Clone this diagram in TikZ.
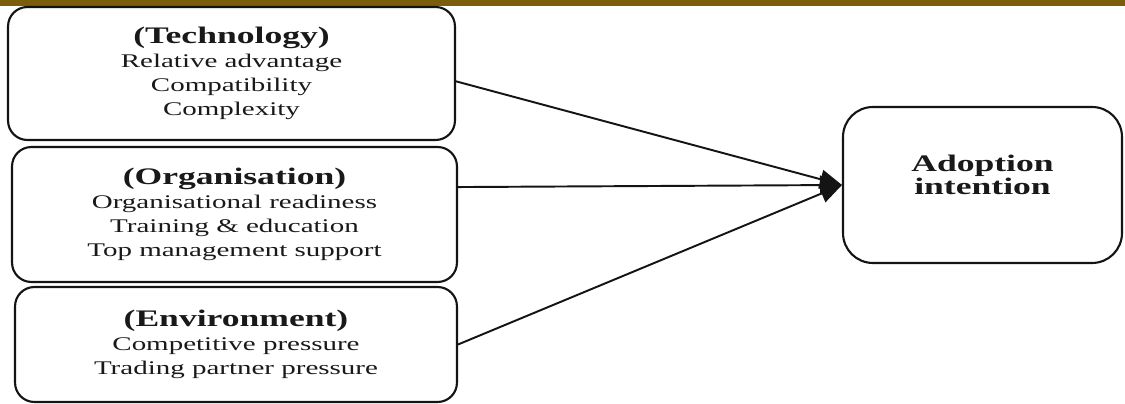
\documentclass[tikz,border=0pt]{standalone}
\usepackage{fontspec}
\setmainfont{Liberation Serif}[FakeStretch=1.5]
\usepackage{xcolor}
\usetikzlibrary{arrows.meta}
\definecolor{barOlive}{RGB}{122,94,10}
\definecolor{boxEdge}{RGB}{20,20,20}
\definecolor{textInk}{RGB}{25,25,25}
\newcommand{\FactorHead}[1]{{\fontsize{13.5}{15}\selectfont\bfseries #1}}

\begin{document}
\begin{tikzpicture}[x=0.02cm,y=-0.02cm,
  factorBox/.style={draw=boxEdge,line width=1.2pt,rounded corners=11pt,fill=white,text=textInk,
    align=center,inner sep=0pt,font=\fontsize{11}{13.6}\selectfont},
  linkArrow/.style={draw=boxEdge,line width=1.1pt,-{Triangle[length=4.4mm,width=3.8mm]}}]
\useasboundingbox (0,0) rectangle (1125,404);
\fill[white] (0,0) rectangle (1125,404);
\fill[barOlive] (0,0) rectangle (1125,6);
% three context factors
\node[factorBox,minimum width=8.94cm,minimum height=2.66cm] (tech) at (231.5,73.5)
  {\FactorHead{(Technology)}\\Relative advantage\\Compatibility\\Complexity};
\node[factorBox,minimum width=8.9cm,minimum height=2.7cm] (org) at (234.5,214.5)
  {\FactorHead{(Organisation)}\\Organisational readiness\\Training \& education\\Top management support};
\node[factorBox,minimum width=8.84cm,minimum height=2.3cm] (env) at (236,344.5)
  {\FactorHead{(Environment)}\\Competitive pressure\\Trading partner pressure};
% outcome
\node[factorBox,rounded corners=17pt,minimum width=5.58cm,minimum height=3.12cm,
  font=\fontsize{13.5}{13}\selectfont\bfseries] (adopt) at (982.5,185)
  {Adoption\\intention\\[-0.06cm]};
\draw[linkArrow] (tech.-2.4) -- (adopt.west);
\draw[linkArrow] (org.7) -- (adopt.west);
\draw[linkArrow] (env.east) -- (adopt.west);
\end{tikzpicture}
\end{document}
